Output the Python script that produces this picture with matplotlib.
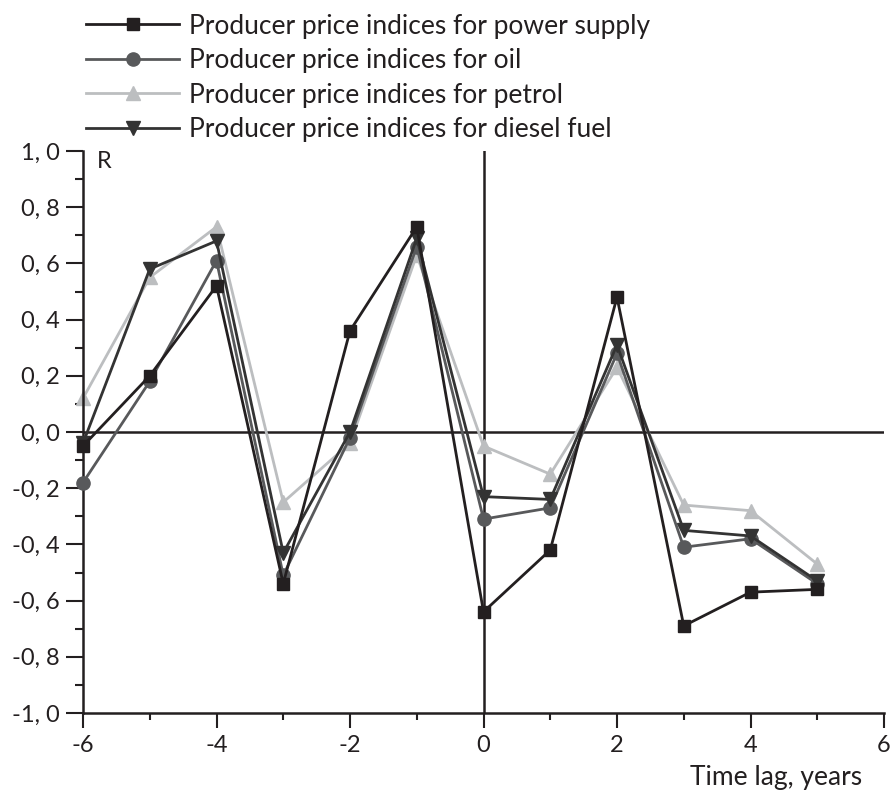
import matplotlib
matplotlib.use("Agg")
import matplotlib.pyplot as plt
from matplotlib.ticker import MultipleLocator, FuncFormatter

plt.rcParams["font.family"] = ["Lato", "DejaVu Sans"]

# time lag, years
lags = [-6, -5, -4, -3, -2, -1, 0, 1, 2, 3, 4, 5]

# correlation coefficient R per series
power_supply = [-0.05, 0.20, 0.52, -0.54, 0.36, 0.73, -0.64, -0.42, 0.48, -0.69, -0.57, -0.56]
oil = [-0.18, 0.18, 0.61, -0.51, -0.02, 0.66, -0.31, -0.27, 0.28, -0.41, -0.38, -0.54]
petrol = [0.12, 0.55, 0.73, -0.25, -0.04, 0.63, -0.05, -0.15, 0.23, -0.26, -0.28, -0.47]
diesel = [-0.04, 0.58, 0.68, -0.43, 0.00, 0.69, -0.23, -0.24, 0.31, -0.35, -0.37, -0.53]

labels = ["Producer price indices for power supply",
          "Producer price indices for oil",
          "Producer price indices for petrol",
          "Producer price indices for diesel fuel"]

ink = "#231f20"
fig = plt.figure(figsize=(8.96, 7.94), dpi=100)
ax = fig.add_axes([83 / 896, 81 / 794, 801 / 896, 562 / 794])

ax.axhline(0, color=ink, lw=1.8, zorder=1)
ax.axvline(0, color=ink, lw=1.8, zorder=1)

style = dict(lw=2.0, clip_on=False)
l1, = ax.plot(lags, power_supply, marker="s", ms=8, color=ink, zorder=5, **style)
l2, = ax.plot(lags, oil, marker="o", ms=9.5, color="#58595b", zorder=3, **style)
l3, = ax.plot(lags, petrol, marker="^", ms=10.5, color="#bcbec0", zorder=2, **style)
l4, = ax.plot(lags, diesel, marker="v", ms=10.5, color="#333333", zorder=4, **style)

ax.set_xlim(-6, 6)
ax.set_ylim(-1, 1)
for s in ("top", "right"):
    ax.spines[s].set_visible(False)
for s in ("left", "bottom"):
    ax.spines[s].set_linewidth(1.8)
    ax.spines[s].set_color(ink)

ax.xaxis.set_major_locator(MultipleLocator(2))
ax.xaxis.set_minor_locator(MultipleLocator(1))
ax.yaxis.set_major_locator(MultipleLocator(0.2))
ax.yaxis.set_minor_locator(MultipleLocator(0.1))
ax.yaxis.set_major_formatter(FuncFormatter(
    lambda v, p: f"{v:.1f}".replace("-0.0", "0.0").replace(".", ", ")))
ax.xaxis.set_major_formatter(FuncFormatter(lambda v, p: f"{v:.0f}"))
ax.tick_params(which="both", direction="out", width=1.5, color=ink,
               labelsize=17, labelcolor=ink)
ax.tick_params(axis="y", which="major", length=12, pad=5)
ax.tick_params(axis="y", which="minor", length=6)
ax.tick_params(axis="x", which="major", length=11, pad=5)
ax.tick_params(axis="x", which="minor", length=5)

ax.text(0.017, 1.0, "R", transform=ax.transAxes, fontsize=17, color=ink,
        va="top", ha="left")
fig.text(862 / 896, (794 - 777) / 794, "Time lag, years", fontsize=19, color=ink,
         ha="right", va="center")

fig.legend([l1, l2, l3, l4], labels, loc="upper left", bbox_to_anchor=(68 / 896, 1.006),
           frameon=False, fontsize=19, handlelength=3.5, handletextpad=0.4,
           labelspacing=0.36, borderaxespad=0.3, labelcolor=ink)

fig.savefig("out.png", dpi=100)
